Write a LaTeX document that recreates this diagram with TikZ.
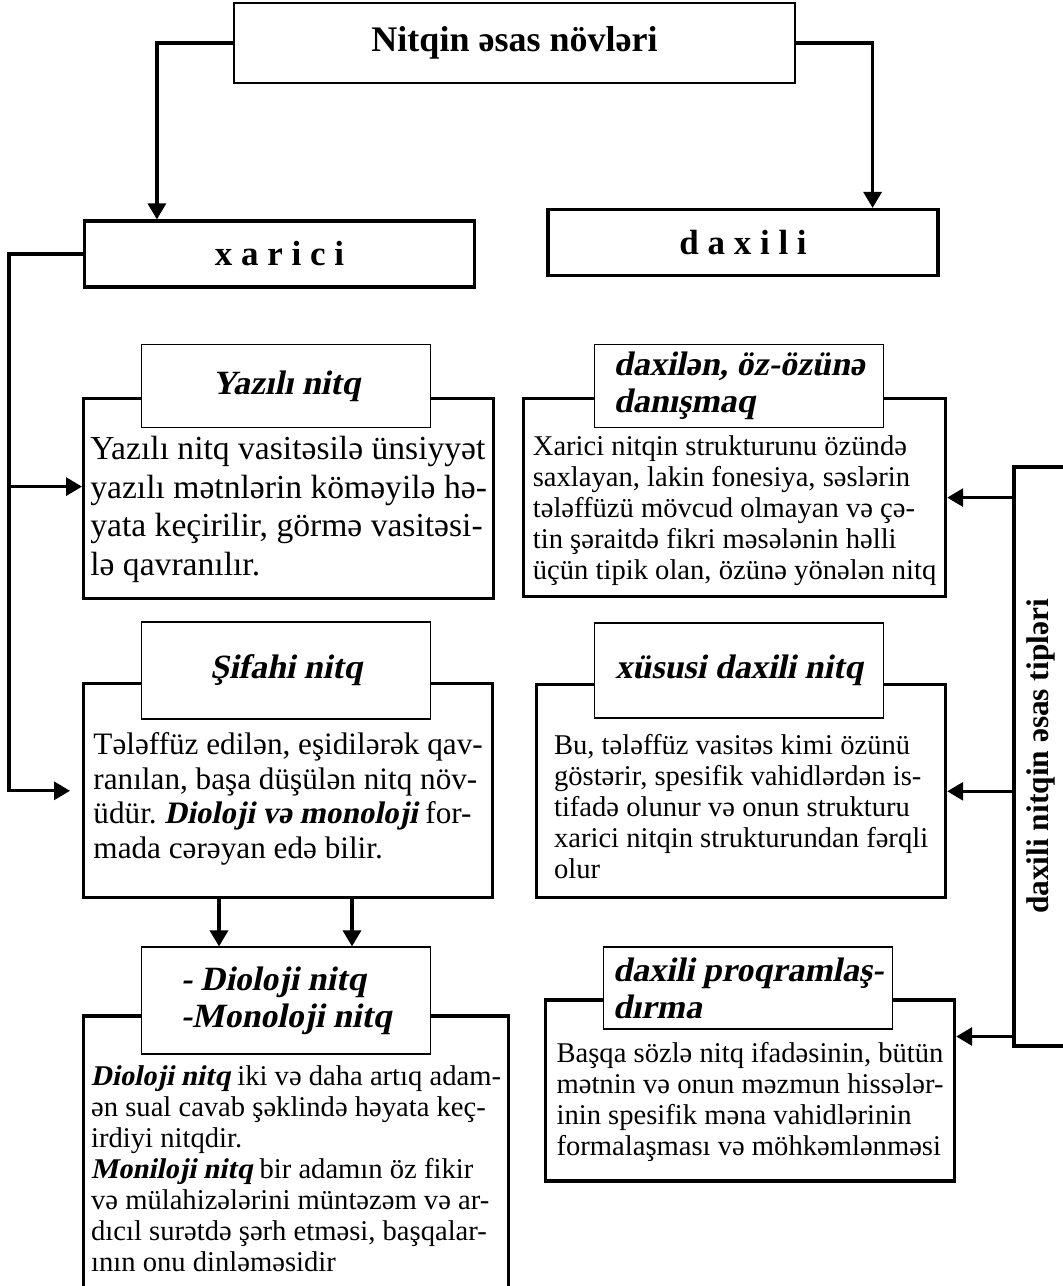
\documentclass[tikz,border=0pt]{standalone}
\usepackage{fontspec}
\setmainfont{Liberation Serif}[BoldItalicFont={Liberation Serif Bold}, BoldItalicFeatures={FakeSlant=0.2}]
\usetikzlibrary{positioning, arrows.meta}
\frenchspacing

\begin{document}
\begin{tikzpicture}[x=0.5pt, y=-0.5pt,
  titlebox/.style={rectangle, draw, line width=0.7pt, minimum width=280.5pt, minimum height=40pt, font=\fontsize{18}{21}\selectfont\bfseries},
  kindbox/.style={rectangle, draw, line width=1.6pt, minimum width=195pt, minimum height=33pt, font=\fontsize{17.5}{21}\selectfont\bfseries},
  headbox/.style={rectangle, draw, line width=0.7pt, fill=white, minimum width=144.5pt, inner sep=0pt, align=left, anchor=north west, font=\fontsize{17}{18.5}\selectfont\bfseries\itshape},
  bodybox/.style={rectangle, draw, line width=1.6pt, inner sep=0pt, align=left, anchor=north west},
  bigtext/.style={font=\fontsize{16.8}{19.25}\selectfont},
  smalltext/.style={font=\fontsize{14.3}{15.5}\selectfont},
  tipbox/.style={rectangle, draw, line width=1.6pt, rotate=90, minimum width=289.5pt, minimum height=27pt, font=\fontsize{15.7}{19}\selectfont\bfseries},
  conn/.style={line width=1.6pt, -{Triangle[length=8pt,width=9pt]}}]
  \useasboundingbox (0,0) rectangle (1062,1286);

  % Nodes
  \node [titlebox] (title) at (514.5,43) {Nitqin əsas növləri};
  \node [kindbox] (xarici) at (279.5,254) {x a r i c i};
  \node [kindbox] (daxili) at (743,242.5) {d a x i l i};

  % left column
  \node [bodybox, bigtext, minimum width=205pt, text height=88.25pt, text depth=11.75pt] (yazilibody) at (82,397)
    {Yazılı nitq vasitəsilə ünsiyyət\\
     yazılı mətnlərin köməyilə hə-\\
     yata keçirilir, görmə vasitəsi-\\
     lə qavranılır.};
  \node [bodybox, font=\fontsize{15.6}{17.25}\selectfont, minimum width=204.5pt, text height=87.25pt, text depth=19.75pt,
         below=41pt of yazilibody.south west, anchor=north west] (sifahibody)
    {Tələffüz edilən, eşidilərək qav-\\
     ranılan, başa düşülən nitq növ-\\
     üdür. \textbf{\textit{Dioloji və monoloji}} for-\\
     mada cərəyan edə bilir.};
  \node [bodybox, smalltext, minimum width=212.5pt, text height=127.5pt, text depth=8.5pt,
         below=57.5pt of sifahibody.south west, anchor=north west] (diolojibody)
    {\textbf{\textit{Dioloji nitq}} iki və daha artıq adam-\\
     ən sual cavab şəklində həyata keç-\\
     irdiyi nitqdir.\\
     \textbf{\textit{Moniloji nitq}} bir adamın öz fikir\\
     və mülahizələrini müntəzəm və ar-\\
     dıcıl surətdə şərh etməsi, başqalar-\\
     ının onu dinləməsidir};

  \node [headbox, minimum height=41.5pt] (yazilihead) at ([xshift=29.5pt, yshift=26.5pt]yazilibody.north west) {Yazılı nitq};
  \node [headbox, minimum height=48.5pt] (sifahihead) at ([xshift=29.5pt, yshift=30.5pt]sifahibody.north west) {Şifahi nitq};
  \node [headbox, minimum height=53.5pt] (diolojihead) at ([xshift=29.5pt, yshift=34pt]diolojibody.north west) {- Dioloji nitq\\-Monoloji nitq};

  % right column
  \node [bodybox, smalltext, minimum width=211pt, text height=90.5pt, text depth=8.5pt] (daxilenbody) at (522,397)
    {Xarici nitqin strukturunu özündə\\
     saxlayan, lakin fonesiya, səslərin\\
     tələffüzü mövcud olmayan və çə-\\
     tin şəraitdə fikri məsələnin həlli\\
     üçün tipik olan, özünə yönələn nitq};
  \node [bodybox, smalltext, minimum width=204.5pt, text height=97pt, text depth=9.5pt,
         below=42.5pt of daxilenbody.south west, anchor=north west, xshift=6.5pt] (xususibody)
    {Bu, tələffüz vasitəs kimi özünü\\
     göstərir, spesifik vahidlərdən is-\\
     tifadə olunur və onun strukturu\\
     xarici nitqin strukturundan fərqli\\
     olur};
  \node [bodybox, smalltext, minimum width=204.5pt, text height=77.5pt, text depth=13pt,
         below=49.5pt of xususibody.south west, anchor=north west, xshift=4.5pt] (proqrambody)
    {Başqa sözlə nitq ifadəsinin, bütün\\
     mətnin və onun məzmun hissələr-\\
     inin spesifik məna vahidlərinin\\
     formalaşması və möhkəmlənməsi};

  \node [headbox, minimum height=41.5pt] (daxilenhead) at ([xshift=36pt, yshift=26.5pt]daxilenbody.north west) {daxilən, öz-özünə\\danışmaq};
  \node [headbox, minimum height=47.5pt] (xususihead) at ([xshift=29.5pt, yshift=30.5pt]xususibody.north west) {xüsusi daxili nitq};
  \node [headbox, minimum height=41pt] (proqramhead) at ([xshift=29.5pt, yshift=26pt]proqrambody.north west) {daxili proqramlaş-\\dırma};

  \node [tipbox] (tipbox) at (1041,756.5) {daxili nitqin əsas tipləri};

  % Edges
  \coordinate (xarA) at ([xshift=37pt]xarici.north west);
  \coordinate (daxA) at ([xshift=-33.5pt]daxili.north east);
  \draw [conn] (title.west) -| (xarA);
  \draw [conn] (title.east) -| (daxA);

  \coordinate (rail) at ([xshift=-37pt]xarici.west);
  \coordinate (yazA) at ([yshift=6pt]yazilibody.west);
  \coordinate (sifA) at ([xshift=-6pt]sifahibody.west);
  \draw [conn] (xarici.west) -- (rail) |- (sifA);
  \draw [conn] (rail |- yazA) -- (yazA);

  \coordinate (dioA) at ([xshift=39pt]diolojihead.north west);
  \coordinate (dioB) at ([xshift=105.5pt]diolojihead.north west);
  \draw [conn] (dioA |- sifahibody.south) -- (dioA);
  \draw [conn] (dioB |- sifahibody.south) -- (dioB);

  % inner speech types
  \coordinate (proA) at ([yshift=27pt]proqrambody.east);
  \draw [conn] (tipbox.north |- daxilenbody.east) -- (daxilenbody.east);
  \draw [conn] (tipbox.north |- xususibody.east) -- (xususibody.east);
  \draw [conn] (tipbox.north |- proA) -- (proA);
\end{tikzpicture}
\end{document}
